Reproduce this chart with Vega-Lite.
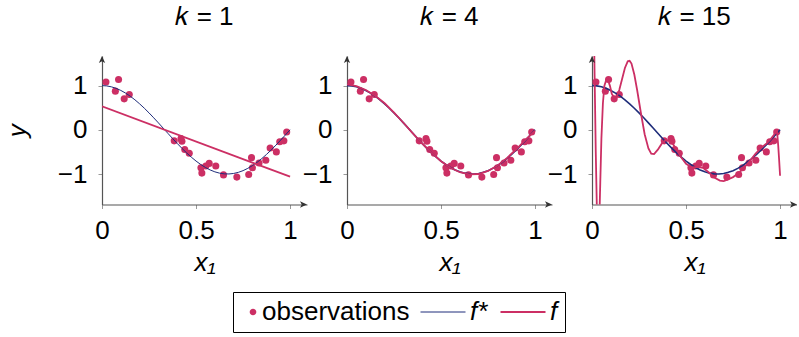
{
  "$schema": "https://vega.github.io/schema/vega-lite/v6.json",
  "autosize": {"type": "pad"},
  "padding": {"left": 4, "top": 4, "right": 0, "bottom": 0},
  "background": "white",
  "spacing": 40,
  "bounds": "flush",
  "config": {
    "view": {"stroke": null},
    "font": "Liberation Sans",
    "axis": {
      "grid": false,
      "labelFont": "Liberation Sans",
      "labelFontSize": 26,
      "labelColor": "black",
      "titleFont": "Liberation Sans",
      "titleFontSize": 26,
      "titleFontWeight": "normal",
      "titleColor": "black",
      "domainColor": "#555555",
      "domainWidth": 1.2,
      "tickColor": "#999999",
      "tickSize": 4,
      "format": "~g"
    },
    "title": {"font": "Liberation Sans", "fontSize": 26, "fontWeight": "normal", "color": "black", "offset": 26, "anchor": "middle", "frame": "group"}
  },
  "datasets": {
    "obs": [
      {"x": 0.021, "y": 1.08, "series": "observations"},
      {"x": 0.088, "y": 1.14, "series": "observations"},
      {"x": 0.071, "y": 0.875, "series": "observations"},
      {"x": 0.118, "y": 0.70, "series": "observations"},
      {"x": 0.145, "y": 0.80, "series": "observations"},
      {"x": 0.384, "y": -0.25, "series": "observations"},
      {"x": 0.42, "y": -0.20, "series": "observations"},
      {"x": 0.425, "y": -0.26, "series": "observations"},
      {"x": 0.44, "y": -0.445, "series": "observations"},
      {"x": 0.464, "y": -0.53, "series": "observations"},
      {"x": 0.526, "y": -0.86, "series": "observations"},
      {"x": 0.531, "y": -0.98, "series": "observations"},
      {"x": 0.552, "y": -0.82, "series": "observations"},
      {"x": 0.57, "y": -0.76, "series": "observations"},
      {"x": 0.605, "y": -0.82, "series": "observations"},
      {"x": 0.646, "y": -1.02, "series": "observations"},
      {"x": 0.717, "y": -1.07, "series": "observations"},
      {"x": 0.78, "y": -1.01, "series": "observations"},
      {"x": 0.795, "y": -0.63, "series": "observations"},
      {"x": 0.8, "y": -0.86, "series": "observations"},
      {"x": 0.835, "y": -0.75, "series": "observations"},
      {"x": 0.871, "y": -0.69, "series": "observations"},
      {"x": 0.894, "y": -0.41, "series": "observations"},
      {"x": 0.927, "y": -0.50, "series": "observations"},
      {"x": 0.945, "y": -0.27, "series": "observations"},
      {"x": 0.967, "y": -0.25, "series": "observations"},
      {"x": 0.982, "y": -0.05, "series": "observations"}
    ],
    "fstar": [
      {"x": 0, "y": 1, "series": "f*"},
      {"x": 0.025, "y": 0.9931, "series": "f*"},
      {"x": 0.05, "y": 0.9724, "series": "f*"},
      {"x": 0.075, "y": 0.9382, "series": "f*"},
      {"x": 0.1, "y": 0.8910, "series": "f*"},
      {"x": 0.125, "y": 0.8315, "series": "f*"},
      {"x": 0.15, "y": 0.7604, "series": "f*"},
      {"x": 0.175, "y": 0.6788, "series": "f*"},
      {"x": 0.2, "y": 0.5878, "series": "f*"},
      {"x": 0.225, "y": 0.4886, "series": "f*"},
      {"x": 0.25, "y": 0.3827, "series": "f*"},
      {"x": 0.275, "y": 0.2714, "series": "f*"},
      {"x": 0.3, "y": 0.1564, "series": "f*"},
      {"x": 0.325, "y": 0.0393, "series": "f*"},
      {"x": 0.35, "y": -0.0785, "series": "f*"},
      {"x": 0.375, "y": -0.1951, "series": "f*"},
      {"x": 0.4, "y": -0.3090, "series": "f*"},
      {"x": 0.425, "y": -0.4187, "series": "f*"},
      {"x": 0.45, "y": -0.5225, "series": "f*"},
      {"x": 0.475, "y": -0.6190, "series": "f*"},
      {"x": 0.5, "y": -0.7071, "series": "f*"},
      {"x": 0.525, "y": -0.7853, "series": "f*"},
      {"x": 0.55, "y": -0.8526, "series": "f*"},
      {"x": 0.575, "y": -0.9081, "series": "f*"},
      {"x": 0.6, "y": -0.9511, "series": "f*"},
      {"x": 0.625, "y": -0.9808, "series": "f*"},
      {"x": 0.65, "y": -0.9969, "series": "f*"},
      {"x": 0.675, "y": -0.9989, "series": "f*"},
      {"x": 0.7, "y": -0.9877, "series": "f*"},
      {"x": 0.725, "y": -0.9627, "series": "f*"},
      {"x": 0.75, "y": -0.9239, "series": "f*"},
      {"x": 0.775, "y": -0.8725, "series": "f*"},
      {"x": 0.8, "y": -0.8090, "series": "f*"},
      {"x": 0.825, "y": -0.7337, "series": "f*"},
      {"x": 0.85, "y": -0.6494, "series": "f*"},
      {"x": 0.875, "y": -0.5556, "series": "f*"},
      {"x": 0.9, "y": -0.4540, "series": "f*"},
      {"x": 0.925, "y": -0.3461, "series": "f*"},
      {"x": 0.95, "y": -0.2334, "series": "f*"},
      {"x": 0.975, "y": -0.1175, "series": "f*"},
      {"x": 1.0, "y": 0, "series": "f*"}
    ],
    "fit1": [
      {"x": 0, "y": 0.53, "series": "f"},
      {"x": 1, "y": -1.06, "series": "f"}
    ],
    "fit4": [
      {"x": 0, "y": 1.03, "series": "f"},
      {"x": 0.05, "y": 0.99, "series": "f"},
      {"x": 0.1, "y": 0.90, "series": "f"},
      {"x": 0.15, "y": 0.77, "series": "f"},
      {"x": 0.2, "y": 0.60, "series": "f"},
      {"x": 0.25, "y": 0.39, "series": "f"},
      {"x": 0.3, "y": 0.16, "series": "f"},
      {"x": 0.35, "y": -0.08, "series": "f"},
      {"x": 0.4, "y": -0.31, "series": "f"},
      {"x": 0.45, "y": -0.52, "series": "f"},
      {"x": 0.5, "y": -0.71, "series": "f"},
      {"x": 0.55, "y": -0.86, "series": "f"},
      {"x": 0.6, "y": -0.96, "series": "f"},
      {"x": 0.65, "y": -1.01, "series": "f"},
      {"x": 0.7, "y": -1.00, "series": "f"},
      {"x": 0.75, "y": -0.93, "series": "f"},
      {"x": 0.8, "y": -0.81, "series": "f"},
      {"x": 0.85, "y": -0.64, "series": "f"},
      {"x": 0.9, "y": -0.44, "series": "f"},
      {"x": 0.95, "y": -0.22, "series": "f"},
      {"x": 1.0, "y": -0.02, "series": "f"}
    ],
    "fit15": [
      {"x": 0, "y": 8, "series": "f"},
      {"x": 0.008, "y": 3.0, "series": "f"},
      {"x": 0.014, "y": 1.2, "series": "f"},
      {"x": 0.02, "y": -0.5, "series": "f"},
      {"x": 0.026, "y": -1.8, "series": "f"},
      {"x": 0.032, "y": -2.5, "series": "f"},
      {"x": 0.038, "y": -2.2, "series": "f"},
      {"x": 0.044, "y": -1.2, "series": "f"},
      {"x": 0.05, "y": -0.2, "series": "f"},
      {"x": 0.058, "y": 0.6, "series": "f"},
      {"x": 0.066, "y": 1.0, "series": "f"},
      {"x": 0.075, "y": 1.12, "series": "f"},
      {"x": 0.085, "y": 1.13, "series": "f"},
      {"x": 0.095, "y": 1.0, "series": "f"},
      {"x": 0.105, "y": 0.82, "series": "f"},
      {"x": 0.118, "y": 0.72, "series": "f"},
      {"x": 0.13, "y": 0.73, "series": "f"},
      {"x": 0.145, "y": 0.9, "series": "f"},
      {"x": 0.16, "y": 1.15, "series": "f"},
      {"x": 0.175, "y": 1.4, "series": "f"},
      {"x": 0.19, "y": 1.55, "series": "f"},
      {"x": 0.2, "y": 1.56, "series": "f"},
      {"x": 0.21, "y": 1.5, "series": "f"},
      {"x": 0.225, "y": 1.25, "series": "f"},
      {"x": 0.24, "y": 0.9, "series": "f"},
      {"x": 0.26, "y": 0.38, "series": "f"},
      {"x": 0.28, "y": -0.1, "series": "f"},
      {"x": 0.3, "y": -0.42, "series": "f"},
      {"x": 0.315, "y": -0.54, "series": "f"},
      {"x": 0.33, "y": -0.55, "series": "f"},
      {"x": 0.35, "y": -0.45, "series": "f"},
      {"x": 0.37, "y": -0.32, "series": "f"},
      {"x": 0.39, "y": -0.24, "series": "f"},
      {"x": 0.41, "y": -0.24, "series": "f"},
      {"x": 0.43, "y": -0.32, "series": "f"},
      {"x": 0.45, "y": -0.45, "series": "f"},
      {"x": 0.47, "y": -0.6, "series": "f"},
      {"x": 0.5, "y": -0.77, "series": "f"},
      {"x": 0.53, "y": -0.85, "series": "f"},
      {"x": 0.56, "y": -0.84, "series": "f"},
      {"x": 0.59, "y": -0.86, "series": "f"},
      {"x": 0.62, "y": -0.96, "series": "f"},
      {"x": 0.65, "y": -1.08, "series": "f"},
      {"x": 0.68, "y": -1.15, "series": "f"},
      {"x": 0.7, "y": -1.16, "series": "f"},
      {"x": 0.72, "y": -1.13, "series": "f"},
      {"x": 0.75, "y": -1.07, "series": "f"},
      {"x": 0.78, "y": -0.98, "series": "f"},
      {"x": 0.81, "y": -0.85, "series": "f"},
      {"x": 0.84, "y": -0.7, "series": "f"},
      {"x": 0.87, "y": -0.54, "series": "f"},
      {"x": 0.9, "y": -0.41, "series": "f"},
      {"x": 0.93, "y": -0.3, "series": "f"},
      {"x": 0.95, "y": -0.21, "series": "f"},
      {"x": 0.97, "y": -0.1, "series": "f"},
      {"x": 0.984, "y": -0.04, "series": "f"},
      {"x": 0.99, "y": -0.35, "series": "f"},
      {"x": 0.995, "y": -0.68, "series": "f"},
      {"x": 1.0, "y": -1.04, "series": "f"}
    ],
    "xarrow": [{"x": 1.09, "y": -1.69}],
    "yarrow": [{"x": 0, "y": 1.67}]
  },
  "hconcat": [
    {
      "width": 205, "height": 148.5,
      "title": "𝑘 = 1",
      "encoding": {
        "x": {"field": "x", "type": "quantitative", "scale": {"domain": [0, 1.09], "nice": false, "zero": false},
              "axis": {"values": [0, 0.5, 1], "title": "x₁", "titleFontStyle": "italic", "labelPadding": 9, "titlePadding": 6, "labelFlush": false}},
        "y": {"field": "y", "type": "quantitative", "scale": {"domain": [-1.69, 1.67], "nice": false, "zero": false},
              "axis": {"values": [-1, 0, 1], "title": "y", "titleFontStyle": "italic", "labelPadding": 11, "titlePadding": 27, "labelFlush": false}}
      },
      "layer": [
        {"data": {"name": "obs"}, "mark": {"type": "point", "filled": true, "size": 50, "opacity": 1},
         "encoding": {"color": {"field": "series", "type": "nominal",
           "scale": {"domain": ["observations", "f*", "f"], "range": ["#cc2f64", "#1f2d7a", "#cc2f64"]},
           "legend": {"orient": "none", "legendX": 131, "legendY": 236, "direction": "horizontal", "title": null,
             "strokeColor": "black", "padding": 7, "labelFont": "Liberation Sans", "labelFontSize": 26, "labelColor": "black",
             "symbolType": {"expr": "datum.value == 'observations' ? 'circle' : 'stroke'"},
             "symbolSize": {"expr": "datum.value == 'observations' ? 12 : 2025"},
             "symbolStrokeWidth": {"expr": "datum.value == 'observations' ? 3.2 : (datum.value == 'f*' ? 1 : 1.8)"},
             "symbolOpacity": 1,
             "columnPadding": 8,
             "labelOffset": {"expr": "datum.value == 'observations' ? -4 : 14"},
             "labelFontStyle": {"expr": "datum.value == 'observations' ? 'normal' : 'italic'"}
           }}}},
        {"data": {"name": "fstar"}, "mark": {"type": "line", "strokeWidth": 1, "clip": true},
         "encoding": {"color": {"field": "series", "type": "nominal"}}},
        {"data": {"name": "fit1"}, "mark": {"type": "line", "strokeWidth": 1.8, "clip": true},
         "encoding": {"color": {"field": "series", "type": "nominal"}}},
        {"data": {"name": "xarrow"}, "mark": {"type": "point", "filled": true, "size": 49, "color": "#333333", "opacity": 1,
          "shape": "M0,0L-2,-0.9L-1.5,0L-2,0.9Z"}},
        {"data": {"name": "yarrow"}, "mark": {"type": "point", "filled": true, "size": 49, "color": "#333333", "opacity": 1,
          "shape": "M0,0L-0.9,2L0,1.5L0.9,2Z"}}
      ]
    },
    {
      "width": 205, "height": 148.5,
      "title": "𝑘 = 4",
      "encoding": {
        "x": {"field": "x", "type": "quantitative", "scale": {"domain": [0, 1.09], "nice": false, "zero": false},
              "axis": {"values": [0, 0.5, 1], "title": "x₁", "titleFontStyle": "italic", "labelPadding": 9, "titlePadding": 6, "labelFlush": false}},
        "y": {"field": "y", "type": "quantitative", "scale": {"domain": [-1.69, 1.67], "nice": false, "zero": false},
              "axis": {"values": [-1, 0, 1], "title": null, "labelPadding": 11, "labelFlush": false}}
      },
      "layer": [
        {"data": {"name": "obs"}, "mark": {"type": "point", "filled": true, "size": 50, "opacity": 1},
         "encoding": {"color": {"field": "series", "type": "nominal"}}},
        {"data": {"name": "fstar"}, "mark": {"type": "line", "strokeWidth": 1.6, "clip": true},
         "encoding": {"color": {"field": "series", "type": "nominal"}}},
        {"data": {"name": "fit4"}, "mark": {"type": "line", "strokeWidth": 1.8, "clip": true},
         "encoding": {"color": {"field": "series", "type": "nominal"}}},
        {"data": {"name": "xarrow"}, "mark": {"type": "point", "filled": true, "size": 49, "color": "#333333", "opacity": 1,
          "shape": "M0,0L-2,-0.9L-1.5,0L-2,0.9Z"}},
        {"data": {"name": "yarrow"}, "mark": {"type": "point", "filled": true, "size": 49, "color": "#333333", "opacity": 1,
          "shape": "M0,0L-0.9,2L0,1.5L0.9,2Z"}}
      ]
    },
    {
      "width": 205, "height": 148.5,
      "title": "𝑘 = 15",
      "encoding": {
        "x": {"field": "x", "type": "quantitative", "scale": {"domain": [0, 1.09], "nice": false, "zero": false},
              "axis": {"values": [0, 0.5, 1], "title": "x₁", "titleFontStyle": "italic", "labelPadding": 9, "titlePadding": 6, "labelFlush": false}},
        "y": {"field": "y", "type": "quantitative", "scale": {"domain": [-1.69, 1.67], "nice": false, "zero": false},
              "axis": {"values": [-1, 0, 1], "title": null, "labelPadding": 11, "labelFlush": false}}
      },
      "layer": [
        {"data": {"name": "obs"}, "mark": {"type": "point", "filled": true, "size": 50, "opacity": 1},
         "encoding": {"color": {"field": "series", "type": "nominal"}}},
        {"data": {"name": "fstar"}, "mark": {"type": "line", "strokeWidth": 1.6, "clip": true},
         "encoding": {"color": {"field": "series", "type": "nominal"}}},
        {"data": {"name": "fit15"}, "mark": {"type": "line", "strokeWidth": 1.8, "clip": true},
         "encoding": {"color": {"field": "series", "type": "nominal"}}},
        {"data": {"name": "xarrow"}, "mark": {"type": "point", "filled": true, "size": 49, "color": "#333333", "opacity": 1,
          "shape": "M0,0L-2,-0.9L-1.5,0L-2,0.9Z"}},
        {"data": {"name": "yarrow"}, "mark": {"type": "point", "filled": true, "size": 49, "color": "#333333", "opacity": 1,
          "shape": "M0,0L-0.9,2L0,1.5L0.9,2Z"}}
      ]
    }
  ]
}
